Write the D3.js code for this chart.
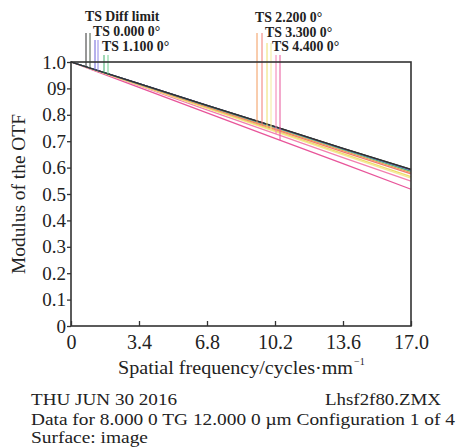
<!DOCTYPE html>
<html>
<head>
<meta charset="utf-8">
<script src="https://cdn.jsdelivr.net/npm/d3@7"></script>
<style>
  body { margin: 0; background: #fff; }
  text { font-family: "Liberation Serif", "DejaVu Serif", serif; fill: #222; }
</style>
</head>
<body>
<script>
// Frequency sample points (cycles/mm)
var freqs = [0, 3.4, 6.8, 10.2, 13.6, 17.0];
var xTicks = [0, 3.4, 6.8, 10.2, 13.6, 17.0];
var xTickLabels = ["0", "3.4", "6.8", "10.2", "13.6", "17.0"];
var yTicks = [0, 0.1, 0.2, 0.3, 0.4, 0.5, 0.6, 0.7, 0.8, 0.9, 1.0];
var yTickLabels = ["0", "0.1", "0.2", "0.3", "0.4", "0.5", "0.6", "0.7", "0.8", "09", "1.0"];

// Field names
var fieldNames = ["TS Diff limit", "TS 0.000 0\u00b0", "TS 1.100 0\u00b0", "TS 2.200 0\u00b0", "TS 3.300 0\u00b0", "TS 4.400 0\u00b0"];

// Tangential / sagittal MTF values per field at freqs
var diffT = [1.000, 0.918, 0.836, 0.755, 0.673, 0.593];
var diffS = [1.000, 0.918, 0.836, 0.755, 0.673, 0.593];
var f0T = [1.000, 0.918, 0.836, 0.754, 0.672, 0.591];
var f0S = [1.000, 0.918, 0.836, 0.754, 0.672, 0.590];
var f1T = [1.000, 0.917, 0.835, 0.753, 0.670, 0.588];
var f1S = [1.000, 0.917, 0.834, 0.752, 0.669, 0.586];
var f2T = [1.000, 0.916, 0.832, 0.748, 0.664, 0.581];
var f2S = [1.000, 0.915, 0.830, 0.745, 0.660, 0.576];
var f3T = [1.000, 0.913, 0.826, 0.740, 0.653, 0.566];
var f3S = [1.000, 0.912, 0.824, 0.736, 0.648, 0.560];
var f4T = [1.000, 0.910, 0.819, 0.729, 0.638, 0.549];
var f4S = [1.000, 0.904, 0.807, 0.711, 0.615, 0.518];

// Legend marker frequencies (T and S line for each field)
var legendFreqT = [0.75, 1.2, 1.65, 9.3, 9.8, 10.25];
var legendFreqS = [0.95, 1.35, 1.85, 9.55, 10.0, 10.45];

var tColors = ["#303030", "#6a62d8", "#3fae6a", "#f29a5c", "#eedd6a", "#f27fb0"];
var sColors = ["#4a5a48", "#8f88e8", "#6fd08f", "#f27a72", "#f4ea9a", "#e8559a"];

var svgWidth = 468;
var svgHeight = 448;
var margin = { top: 62, left: 71, right: 57, bottom: 122 };
var chartWidth = svgWidth - margin.left - margin.right;
var chartHeight = svgHeight - margin.top - margin.bottom;

var svg = d3.select("body").append("svg")
    .attr("width", svgWidth)
    .attr("height", svgHeight);

var chartGroup = svg.append("g")
    .attr("transform", `translate(${margin.left}, ${margin.top})`);

var xScale = d3.scaleLinear().domain([0, 17]).range([0, chartWidth]);
var yScale = d3.scaleLinear().domain([0, 1]).range([chartHeight, 0]);

var series = [
    [diffT, diffS], [f0T, f0S], [f1T, f1S], [f2T, f2S], [f3T, f3S], [f4T, f4S]
];

function valueAt(vals, f) {
    return d3.scaleLinear().domain(freqs).range(vals)(f);
}

var line = d3.line()
    .x((d, i) => xScale(freqs[i]))
    .y(d => yScale(d));

// Curves (draw reverse so diff limit sits on top)
for (var k = series.length - 1; k >= 0; k--) {
    chartGroup.append("path").datum(series[k][1])
        .attr("d", line).attr("fill", "none")
        .attr("stroke", sColors[k]).attr("stroke-width", 1.3);
    chartGroup.append("path").datum(series[k][0])
        .attr("d", line).attr("fill", "none")
        .attr("stroke", tColors[k]).attr("stroke-width", 1.3);
}

// Legend labels and marker lines
var labelPos = [
    { x: 14, y: -41, top: -29 },
    { x: 22, y: -26, top: -22 },
    { x: 31, y: -11, top: -7 },
    { x: 184, y: -40, top: -29 },
    { x: 194, y: -25, top: -19 },
    { x: 201, y: -11, top: -7 }
];

fieldNames.forEach(function (name, i) {
    [legendFreqT[i], legendFreqS[i]].forEach(function (f, j) {
        chartGroup.append("line")
            .attr("x1", xScale(f)).attr("x2", xScale(f))
            .attr("y1", labelPos[i].top)
            .attr("y2", yScale(valueAt(series[i][j], f)))
            .attr("stroke", j === 0 ? tColors[i] : sColors[i])
            .attr("stroke-width", 1);
    });
    chartGroup.append("text")
        .attr("x", labelPos[i].x)
        .attr("y", labelPos[i].y)
        .attr("font-size", 13.8)
        .attr("font-weight", "bold")
        .attr("fill", "#444")
        .text(name);
});

// Frame
chartGroup.append("rect")
    .attr("width", chartWidth).attr("height", chartHeight)
    .attr("fill", "none").attr("stroke", "#333").attr("stroke-width", 1.6);

// X axis ticks (inward)
var xAxis = chartGroup.append("g")
    .attr("transform", `translate(0, ${chartHeight})`)
    .call(d3.axisBottom(xScale).tickValues(xTicks).tickSize(-5).tickPadding(9)
        .tickFormat((d, i) => xTickLabels[i]));
xAxis.select(".domain").remove();
xAxis.selectAll("line").attr("stroke", "#333").attr("stroke-width", 1.3);
xAxis.selectAll("text").attr("font-size", 20).attr("fill", "#222")
    .attr("font-family", "Liberation Serif");

// Y axis ticks (outward)
var yAxis = chartGroup.append("g")
    .call(d3.axisLeft(yScale).tickValues(yTicks).tickSize(4).tickPadding(1)
        .tickFormat((d, i) => yTickLabels[i]));
yAxis.select(".domain").remove();
yAxis.selectAll("line").attr("stroke", "#333").attr("stroke-width", 1.3);
yAxis.selectAll("text").attr("font-size", 19).attr("fill", "#222")
    .attr("font-family", "Liberation Serif");

// Axis titles
var xTitle = chartGroup.append("text")
    .attr("x", 47)
    .attr("y", chartHeight + 48)
    .attr("font-size", 18.5);
xTitle.append("tspan")
    .attr("textLength", 235).attr("lengthAdjust", "spacingAndGlyphs")
    .text("Spatial frequency/cycles\u00b7mm");
xTitle.append("tspan").attr("font-size", 10).attr("dy", -9).attr("dx", 1).text("\u22121");

chartGroup.append("text")
    .attr("transform", "rotate(-90)")
    .attr("x", -chartHeight / 2 + 0)
    .attr("y", -46)
    .attr("text-anchor", "middle")
    .attr("font-size", 18)
    .attr("textLength", 160).attr("lengthAdjust", "spacingAndGlyphs")
    .text("Modulus of the OTF");

// Footer
var footerLines = [
    { x: 31, y: 405, w: 146, t: "THU JUN 30 2016" },
    { x: 325, y: 405, w: 116, t: "Lhsf2f80.ZMX" },
    { x: 31, y: 425, w: 424, t: "Data for 8.000 0 TG 12.000 0 \u00b5m Configuration 1 of 4" },
    { x: 31, y: 443, w: 117, t: "Surface: image" }
];
svg.append("g").selectAll("text")
    .data(footerLines)
    .enter()
    .append("text")
    .attr("x", d => d.x)
    .attr("y", d => d.y)
    .attr("font-size", 16.5)
    .attr("textLength", d => d.w)
    .attr("lengthAdjust", "spacingAndGlyphs")
    .text(d => d.t);
</script>
</body>
</html>
